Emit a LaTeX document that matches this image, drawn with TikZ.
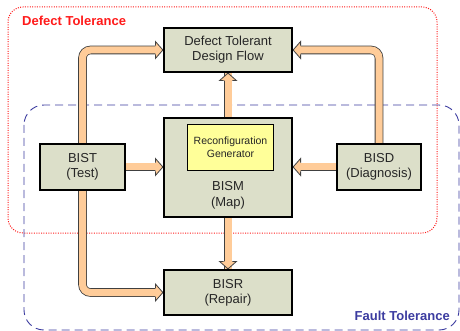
\documentclass[tikz,border=0pt]{standalone}
\usepackage{fontspec}
\setmainfont{Liberation Sans}
\usetikzlibrary{backgrounds}

\definecolor{boxfill}{HTML}{DCDFC9}
\definecolor{peach}{HTML}{FFCC99}
\definecolor{genfill}{HTML}{FFFF99}
\definecolor{faultblue}{HTML}{3C3CA0}
\definecolor{defectred}{HTML}{FF1A1A}

\tikzset{
  blockbox/.style={draw=black, line width=2.2pt, fill=boxfill, align=center,
    font=\fontsize{13}{15}\selectfont, text=black!85, inner sep=0pt},
  genbox/.style={draw=black, line width=0.8pt, fill=genfill, align=center,
    font=\fontsize{10.5}{13}\selectfont, text=black!85, inner sep=0pt},
  fat/.style={draw=black!75, line width=0.8pt, double=peach, double distance=7pt},
  ahead/.pic={
    \fill[peach] (0,0) -- (-7.5,-8.5) -- (-7.5,8.5) -- cycle;
    \draw[black!75, line width=0.8pt, line join=miter]
      (-7.5,-4.3) -- (-7.5,-8.5) -- (0,0) -- (-7.5,8.5) -- (-7.5,4.3);
  },
  regionlabel/.style={font=\fontsize{13}{15}\selectfont\bfseries, inner sep=0pt}
}

\begin{document}
\begin{tikzpicture}[x=1pt, y=-1pt]
\useasboundingbox (0,0) rectangle (460,331);

% blocks
\node[blockbox, minimum width=128pt, minimum height=44pt] (dtdf) at (228,50)
  {Defect Tolerant\\Design Flow};
\node[blockbox, minimum width=85pt, minimum height=46pt] (bist) at (82.5,167)
  {BIST\\(Test)};
\node[blockbox, minimum width=128pt, minimum height=99pt] (bism) at (228,167.5) {};
\node[genbox, minimum width=86pt, minimum height=46pt] (gen) at (230.5,147.5)
  {Reconfiguration\\Generator};
\node[font=\fontsize{13}{16}\selectfont, text=black!85, align=center] (bismtxt) at (228,195)
  {BISM\\(Map)};
\node[blockbox, minimum width=84pt, minimum height=46pt] (bisd) at (379,167)
  {BISD\\(Diagnosis)};
\node[blockbox, minimum width=128pt, minimum height=45pt] (bisr) at (228,292.5)
  {BISR\\(Repair)};

% region labels
\node[regionlabel, text=defectred, anchor=west] (dlabel) at (22,21) {Defect Tolerance};
\node[regionlabel, text=faultblue, anchor=east] (flabel) at (450,316) {Fault Tolerance};

\begin{pgfonlayer}{background}
  % tolerance regions
  \draw[defectred, line width=1pt, dash pattern=on 1pt off 1.4pt, rounded corners=15pt]
    (8,7) rectangle (437,233);
  \draw[faultblue, line width=0.9pt, dash pattern=on 8pt off 5pt, rounded corners=20pt]
    (24,105) rectangle (459,330);

  % flows
  \draw[fat, rounded corners=8pt] (bist.north) -- (bist.north |- dtdf.west)
    -- ([xshift=-6pt]dtdf.west);
  \pic at (dtdf.west) {ahead};

  \draw[fat, rounded corners=8pt] (bisd.north) -- (bisd.north |- dtdf.east)
    -- ([xshift=6pt]dtdf.east);
  \pic[rotate=180] at (dtdf.east) {ahead};

  \draw[fat, rounded corners=8pt] (bist.south) -- (bist.south |- bisr.west)
    -- ([xshift=-6pt]bisr.west);
  \pic at (bisr.west) {ahead};

  \draw[fat] (bist.east) -- ([xshift=-6pt]bism.west |- bist.east);
  \pic at (bism.west |- bist.east) {ahead};

  \draw[fat] (bisd.west) -- ([xshift=6pt]bism.east |- bisd.west);
  \pic[rotate=180] at (bism.east |- bisd.west) {ahead};

  \draw[fat] (bism.north) -- ([yshift=6pt]dtdf.south);
  \pic[rotate=90] at (dtdf.south) {ahead};

  \draw[fat] (bism.south) -- ([yshift=-6pt]bisr.north);
  \pic[rotate=-90] at (bisr.north) {ahead};
\end{pgfonlayer}
\end{tikzpicture}
\end{document}
